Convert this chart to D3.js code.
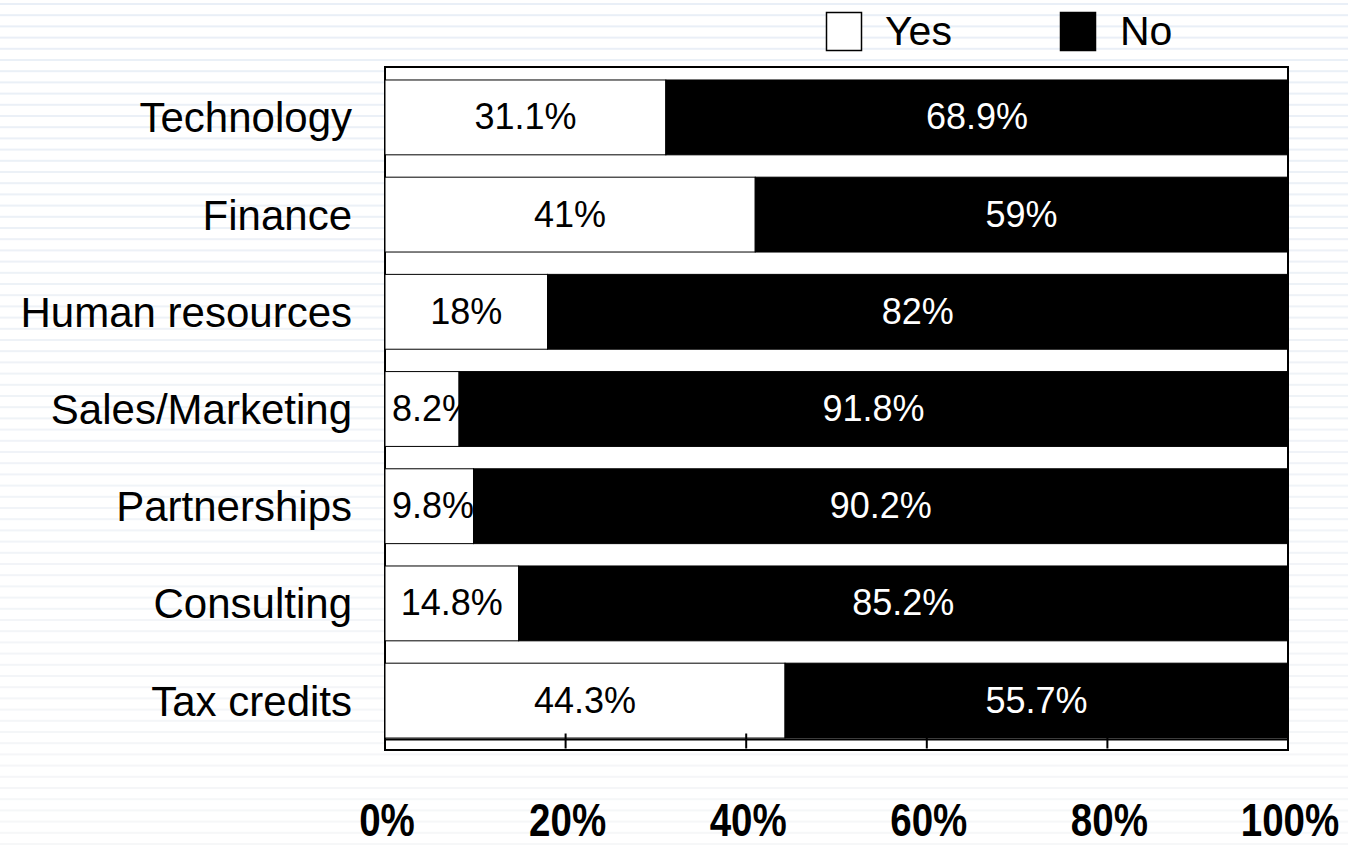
<!DOCTYPE html>
<html>
<head>
<meta charset="utf-8">
<script src="https://cdn.jsdelivr.net/npm/d3@7"></script>
<style>
  html, body { margin: 0; padding: 0; background: #fff; }
  svg { display: block; font-family: "Liberation Sans", Arial, sans-serif; }
</style>
</head>
<body>
<svg id="chart" width="1348" height="845"></svg>
<script>
// Survey responses per area (percent)
const categories = ["Technology", "Finance", "Human resources", "Sales/Marketing", "Partnerships", "Consulting", "Tax credits"];
const yesValues = [31.1, 41, 18, 8.2, 9.8, 14.8, 44.3];
const noValues  = [68.9, 59, 82, 91.8, 90.2, 85.2, 55.7];
const seriesNames = ["Yes", "No"];
const tickValues = [0, 20, 40, 60, 80, 100];
const tickLabels = ["0%", "20%", "40%", "60%", "80%", "100%"];

const W = 1348, H = 845;
const svg = d3.select("#chart");

// Striped slide background, fading towards the bottom
const bg = svg.append("g");
bg.append("rect").attr("width", W).attr("height", H).attr("fill", "#ffffff");
const stripeColor = d3.scaleLinear().domain([0, H]).range(["#e9eff7", "#f6f7f8"]);
bg.selectAll("rect.stripe")
  .data(d3.range(3, H, 11.2))
  .join("rect")
  .attr("class", "stripe")
  .attr("x", 0).attr("width", W)
  .attr("y", d => d).attr("height", 2)
  .attr("fill", d => stripeColor(d));

// Scales
const x = d3.scaleLinear().domain([0, 100]).range([385, 1288]);
const y = d3.scaleBand().domain(categories).range([68.8, 749.2])
  .paddingInner(0.23).paddingOuter(0.115);

const plotTop = 67, plotBottom = 750, axisY = 739.5;

// Plot area frame
svg.append("rect")
  .attr("x", x(0)).attr("y", plotTop)
  .attr("width", x(100) - x(0)).attr("height", plotBottom - plotTop)
  .attr("fill", "#ffffff").attr("stroke", "#000").attr("stroke-width", 2);

const rows = categories.map((c, i) => ({ cat: c, yes: yesValues[i], no: noValues[i] }));

const rowG = svg.selectAll("g.row").data(rows).join("g").attr("class", "row");

// Centre a label in its segment, or hug the segment start when it does not fit
function placeLabel(sel, x0, x1, yc) {
  const w = sel.node().getComputedTextLength();
  const cx = Math.max((x0 + x1) / 2, x0 + 7 + w / 2);
  sel.attr("x", cx).attr("y", yc);
}

rowG.each(function(d) {
  const g = d3.select(this);
  const y0 = y(d.cat), h = y.bandwidth(), yc = y0 + h / 2 + 12;
  // Yes segment
  g.append("rect")
    .attr("x", x(0)).attr("y", y0)
    .attr("width", x(d.yes) - x(0)).attr("height", h)
    .attr("fill", "#ffffff").attr("stroke", "#000").attr("stroke-width", 1);
  const yl = g.append("text")
    .attr("text-anchor", "middle").attr("font-size", 36).attr("fill", "#000")
    .text(d.yes + "%");
  placeLabel(yl, x(0), x(d.yes), yc);
  // No segment, stacked after Yes
  g.append("rect")
    .attr("x", x(d.yes)).attr("y", y0)
    .attr("width", x(d.yes + d.no) - x(d.yes)).attr("height", h)
    .attr("fill", "#000").attr("stroke", "#000").attr("stroke-width", 1);
  const nl = g.append("text")
    .attr("text-anchor", "middle").attr("font-size", 36).attr("fill", "#fff")
    .text(d.no + "%");
  placeLabel(nl, x(d.yes), x(d.yes + d.no), yc);
});

// Category axis labels
svg.selectAll("text.cat").data(categories).join("text")
  .attr("class", "cat")
  .attr("x", 352)
  .attr("y", d => y(d) + y.bandwidth() / 2 + 15)
  .attr("text-anchor", "end")
  .attr("font-size", 42)
  .attr("fill", "#000")
  .text(d => d);

// Value axis line with ticks
const axisG = svg.append("g").attr("transform", `translate(0,${axisY})`);
axisG.append("line")
  .attr("x1", x(0)).attr("x2", x(100))
  .attr("stroke", "#000").attr("stroke-width", 2);
axisG.selectAll("line.tick").data(tickValues.filter(v => v > 0 && v < 100)).join("line")
  .attr("class", "tick")
  .attr("x1", d => x(d)).attr("x2", d => x(d))
  .attr("y1", -6).attr("y2", 9)
  .attr("stroke", "#000").attr("stroke-width", 2);

// Tick labels, bold and narrow
svg.selectAll("text.tickLabel").data(tickValues).join("text")
  .attr("class", "tickLabel")
  .attr("transform", d => `translate(${x(d) + 2},836) scale(0.82,1)`)
  .attr("text-anchor", "middle")
  .attr("font-size", 47)
  .attr("font-weight", "bold")
  .attr("fill", "#000")
  .text((d, i) => tickLabels[i]);

// Legend
const legendX = d3.scalePoint().domain(seriesNames).range([826, 1060]);
const legendFill = d3.scaleOrdinal().domain(seriesNames).range(["#ffffff", "#000000"]);
const lg = svg.selectAll("g.legend").data(seriesNames).join("g")
  .attr("class", "legend")
  .attr("transform", d => `translate(${legendX(d)},12)`);
lg.append("rect")
  .attr("x", 0.5).attr("y", 0.5).attr("width", 35).attr("height", 38)
  .attr("fill", d => legendFill(d)).attr("stroke", "#000").attr("stroke-width", 1.5);
lg.append("text")
  .attr("x", d => d === "Yes" ? 59 : 60).attr("y", 33)
  .attr("font-size", 41).attr("fill", "#000")
  .text(d => d);
</script>
</body>
</html>
